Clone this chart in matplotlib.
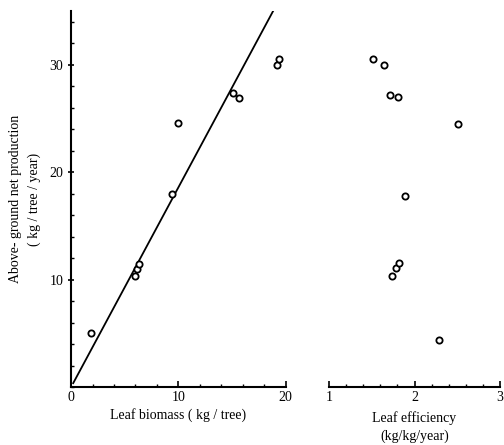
import numpy as np
import matplotlib.pyplot as plt
from matplotlib.ticker import MultipleLocator, FixedLocator
plt.rcParams["font.family"] = ["Liberation Serif", "DejaVu Serif"]

# data
leaf_biomass = [1.9, 6.0, 6.1, 6.3, 9.4, 10.0, 15.1, 15.6, 19.2, 19.4]
production = [5.0, 10.3, 11.0, 11.5, 18.0, 24.6, 27.4, 26.9, 30.0, 30.5]
leaf_eff = [2.29, 1.74, 1.78, 1.82, 1.89, 2.51, 1.71, 1.81, 1.64, 1.51]
eff_prod = [4.4, 10.3, 11.1, 11.6, 17.8, 24.5, 27.2, 27.0, 30.0, 30.5]
fit_slope = 1.86
y_ticks = [10, 20, 30]

fig = plt.figure(figsize=(5.04, 4.45), dpi=100)
ax1 = fig.add_axes([0.141, 0.130, 0.426, 0.845])
ax2 = fig.add_axes([0.653, 0.130, 0.339, 0.845], sharey=ax1)

mk = dict(marker='o', ls='none', mfc='white', mec='black', ms=4.5, mew=1.3)

# left: production vs leaf biomass with fitted line through origin
xl = np.array([0.2, 35 / fit_slope])
ax1.plot(xl, fit_slope * xl, color='black', lw=1.3)
ax1.plot(leaf_biomass, production, **mk)
ax1.set_xlim(0, 20)
ax1.set_ylim(0, 35)
ax1.spines['top'].set_visible(False)
ax1.spines['right'].set_visible(False)
for s in ['left', 'bottom']:
    ax1.spines[s].set_linewidth(1.5)
ax1.xaxis.set_major_locator(MultipleLocator(10))
ax1.xaxis.set_minor_locator(MultipleLocator(2))
ax1.yaxis.set_major_locator(FixedLocator(y_ticks))
ax1.yaxis.set_minor_locator(MultipleLocator(2))
ax1.tick_params(which='major', direction='in', length=4, width=1.2, labelsize=10, pad=3)
ax1.tick_params(axis='y', which='major', direction='inout', length=5)
ax1.tick_params(which='minor', direction='in', length=2.5, width=1)
ax1.set_xlabel('Leaf biomass ( kg / tree)', fontsize=10, labelpad=3)
ax1.set_ylabel('Above- ground net production\n( kg / tree / year)', fontsize=10, labelpad=6,
               linespacing=1.6)

# right: production vs leaf efficiency
ax2.plot(leaf_eff, eff_prod, **mk)
ax2.set_xlim(1, 3)
for s in ['top', 'right', 'left']:
    ax2.spines[s].set_visible(False)
ax2.spines['bottom'].set_linewidth(1.5)
ax2.xaxis.set_major_locator(MultipleLocator(1))
ax2.xaxis.set_minor_locator(MultipleLocator(0.2))
ax2.tick_params(axis='y', which='both', left=False, labelleft=False)
ax2.tick_params(axis='x', which='major', direction='in', length=4, width=1.2, labelsize=10, pad=3)
ax2.tick_params(axis='x', which='minor', direction='in', length=2.5, width=1)
ax2.set_xlabel('Leaf efficiency\n(kg/kg/year)', fontsize=10, labelpad=5, linespacing=1.4)

fig.savefig('out.png', dpi=100)
